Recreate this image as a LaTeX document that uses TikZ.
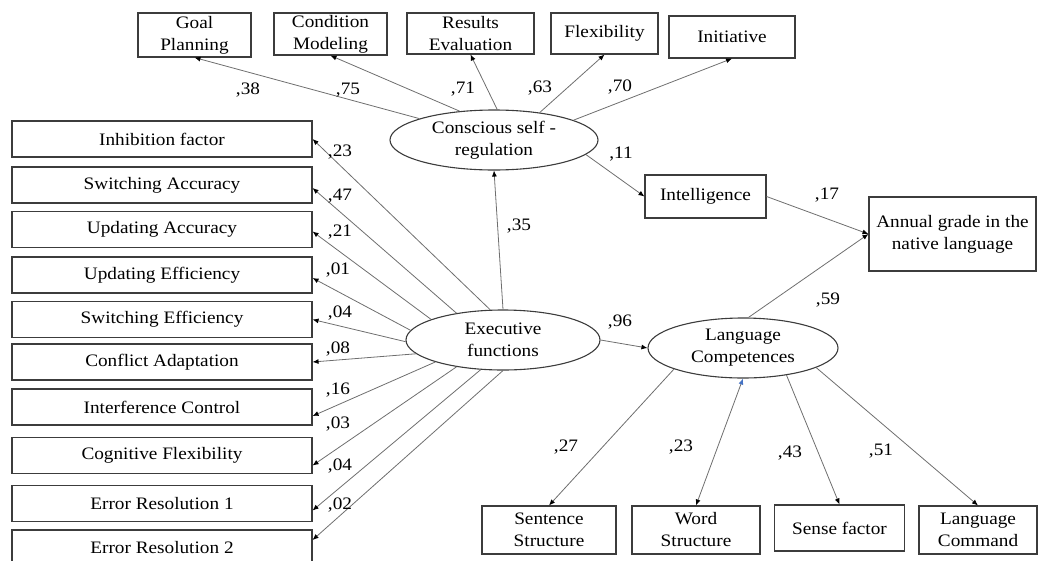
\documentclass[tikz,border=0pt]{standalone}
\usepackage{fontspec}
\setmainfont{Liberation Serif}[FakeStretch=1.1]
\usepackage{tikz}
\usetikzlibrary{positioning, shapes, arrows.meta}
\definecolor{bordeCaja}{HTML}{3C3C3C}
\definecolor{lineaRuta}{HTML}{6E6E6E}
\definecolor{puntaAzul}{HTML}{4472C4}

\begin{document}
\begin{tikzpicture}[
  x=1pt, y=-1pt,
  font=\fontsize{17.5}{22}\selectfont,
  caja/.style={draw=bordeCaja, line width=1.1pt, align=center, inner sep=0pt},
  izq/.style={caja, minimum width=300, minimum height=36},
  latente/.style={ellipse, draw=bordeCaja, line width=1.1pt, align=center, inner sep=0pt, minimum height=60},
  ruta/.style={draw=lineaRuta, line width=0.8pt, -{Latex[length=6pt, width=5pt, color=black]}},
  coef/.style={inner sep=1pt}
]
  \useasboundingbox (0,0) rectangle (1038,560);

  % --- Variables latentes ---
  \node[latente, minimum width=208] (csr) at (494,140) {Conscious self -\\regulation};
  \node[latente, minimum width=194] (ef)  at (503,340) {Executive\\functions};
  \node[latente, minimum width=190] (lc)  at (743,348) {Language\\Competences};

  % --- Indicadores de autorregulación (arriba) ---
  \node[caja, minimum width=113, minimum height=44] (goal) at (194.5,35)   {Goal\\Planning};
  \node[caja, minimum width=113, minimum height=42] (cond) at (330.5,34)   {Condition\\Modeling};
  \node[caja, minimum width=127, minimum height=41] (res)  at (470.5,33.5) {Results\\Evaluation};
  \node[caja, minimum width=107, minimum height=41] (flex) at (604.5,33.5) {Flexibility};
  \node[caja, minimum width=126, minimum height=42] (init) at (732,37)     {Initiative};

  % --- Indicadores de funciones ejecutivas (izquierda) ---
  \node[izq] (inhib)   at (162,139)   {Inhibition factor};
  \node[izq] (swacc)   at (162,185)   {Switching Accuracy};
  \node[izq] (upacc)   at (162,229.5) {Updating Accuracy};
  \node[izq] (upeff)   at (162,275)   {Updating Efficiency};
  \node[izq] (sweff)   at (162,319.5) {Switching Efficiency};
  \node[izq] (confl)   at (162,362)   {Conflict Adaptation};
  \node[izq] (interf)  at (162,407)   {Interference Control};
  \node[izq] (cogflex) at (162,455.5) {Cognitive Flexibility};
  \node[izq] (err1)    at (162,503.5) {Error Resolution 1};
  \node[izq] (err2)    at (162,548)   {Error Resolution 2};

  % --- Indicadores de competencias lingüísticas (abajo) ---
  \node[caja, minimum width=134, minimum height=48] (sent)  at (549,530)   {Sentence\\Structure};
  \node[caja, minimum width=128, minimum height=48] (word)  at (696,530)   {Word\\Structure};
  \node[caja, minimum width=130, minimum height=46] (sense) at (839.5,528) {Sense factor};
  \node[caja, minimum width=118, minimum height=48] (comm)  at (978,530)   {Language\\Command};

  % --- Variables observadas ---
  \node[caja, minimum width=121, minimum height=43] (intel)  at (705.5,196.5) {Intelligence};
  \node[caja, minimum width=167, minimum height=74] (annual) at (952.5,234)   {Annual grade in the\\native language};

  % --- Rutas ---
  \draw[ruta] (csr.164) -- (goal.south);
  \draw[ruta] (csr.140) -- (cond.south);
  \draw[ruta] (csr.84)  -- (res.south);
  \draw[ruta] (csr.31)  -- (flex.south);
  \draw[ruta] (csr.14)  -- (init.south);
  \draw[ruta] (csr.-9)  -- (intel.west);

  \draw[ruta] (ef.north) -- (csr.south);
  \draw[ruta] (ef.east)  -- (lc.west);

  \draw[ruta] (ef.113) -- (inhib.east);
  \draw[ruta] (ef.150) -- ([yshift=-3pt]swacc.east);
  \draw[ruta] (ef.164) -- ([yshift=-2pt]upacc.east);
  \draw[ruta] (ef.174) -- ([yshift=-3pt]upeff.east);
  \draw[ruta] (ef.181) -- (sweff.east);
  \draw[ruta] (ef.189) -- (confl.east);
  \draw[ruta] (ef.198) -- ([yshift=-9pt]interf.east);
  \draw[ruta] (ef.210) -- ([yshift=-10pt]cogflex.east);
  \draw[ruta] (ef.233) -- ([yshift=-7pt]err1.east);
  \draw[ruta] (ef.270) -- ([yshift=8pt]err2.east);

  \draw[ruta] (lc.197) -- (sent.north);
  \draw[ruta, {Latex[length=6pt, width=5pt, color=puntaAzul]}-{Latex[length=6pt, width=5pt, color=black]}] (lc.south) -- (word.north);
  \draw[ruta] (lc.328) -- (sense.north);
  \draw[ruta] (lc.345) -- (comm.north);

  \draw[ruta] (intel.east) -- (annual.west);
  \draw[ruta] (lc.80)      -- (annual.west);

  % --- Coeficientes ---
  \node[coef] (c38) at (248,90) {,38};
  \node[coef] (c75) at (348,90) {,75};
  \node[coef] (c71) at (463,89) {,71};
  \node[coef] (c63) at (540,88) {,63};
  \node[coef] (c70) at (620,87) {,70};

  \node[coef] (c11) at (621,154) {,11};
  \node[coef] (c35) at (519,226) {,35};
  \node[coef] (c96) at (620,322) {,96};
  \node[coef] (c17) at (827,195) {,17};
  \node[coef] (c59) at (828,300) {,59};

  \node[coef] (c23) at (340,152) {,23};
  \node[coef] (c47) at (340,196) {,47};
  \node[coef] (c21) at (340,232) {,21};
  \node[coef] (c01) at (338,270) {,01};
  \node[coef] (c04a) at (340,313) {,04};
  \node[coef] (c08) at (338,349) {,08};
  \node[coef] (c16) at (338,390) {,16};
  \node[coef] (c03) at (338,424) {,03};
  \node[coef] (c04b) at (340,466) {,04};
  \node[coef] (c02) at (340,505) {,02};

  \node[coef] (c27)  at (566,447) {,27};
  \node[coef] (c23b) at (681,447) {,23};
  \node[coef] (c43)  at (790,453) {,43};
  \node[coef] (c51)  at (881,451) {,51};

\end{tikzpicture}
\end{document}
